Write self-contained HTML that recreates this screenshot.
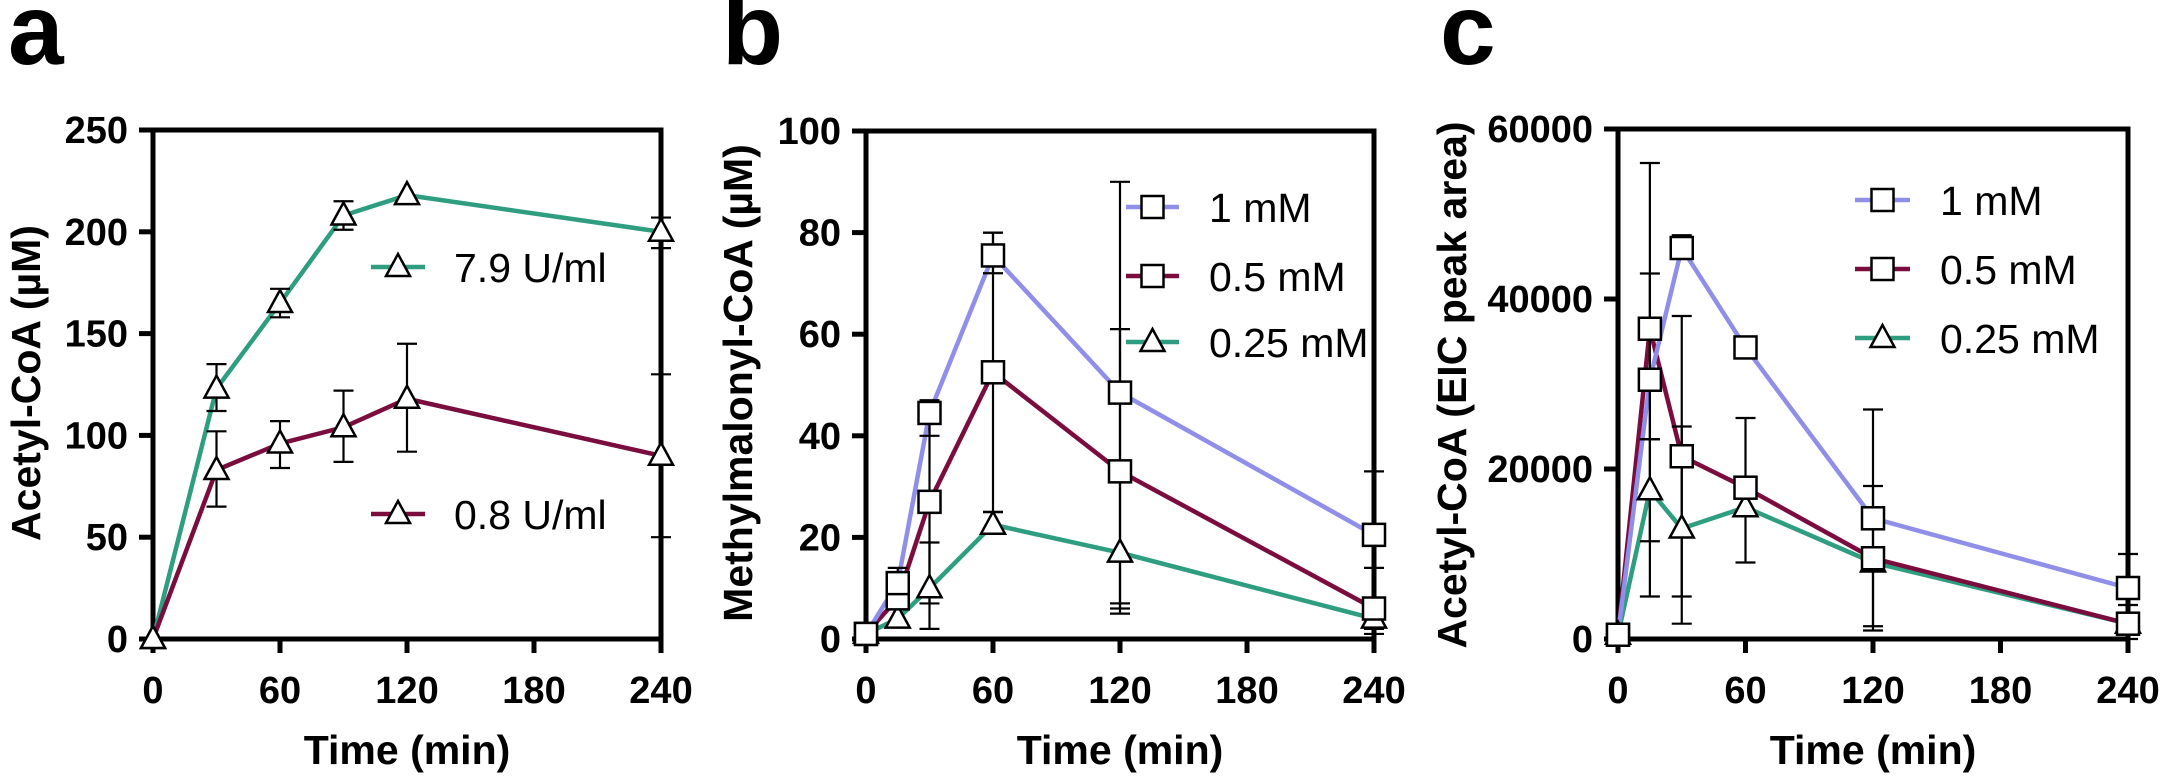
<!DOCTYPE html>
<html><head><meta charset="utf-8"><style>
html,body{margin:0;padding:0;background:#fff;}
svg{display:block;font-family:"Liberation Sans",Arial,sans-serif;}
</style></head><body>
<svg id="s" width="2162" height="780" viewBox="0 0 2162 780" xmlns="http://www.w3.org/2000/svg"></svg>
<script>
const S=document.getElementById('s');const NS='http://www.w3.org/2000/svg';
function el(t,a,txt){const e=document.createElementNS(NS,t);for(const k in a)e.setAttribute(k,a[k]);if(txt!==undefined)e.textContent=txt;S.appendChild(e);return e;}
const G='#2f9e80',R='#7a0d3e',B='#8f8fea';
function tri(x,y){el('polygon',{points:`${x},${y-13} ${x-12},${y+9} ${x+12},${y+9}`,fill:'#fff',stroke:'#000','stroke-width':2.5});}
function sq(x,y){el('rect',{x:x-11,y:y-11,width:22,height:22,fill:'#fff',stroke:'#000','stroke-width':2.5});}
function panel(o){
 const X=t=>o.x0+t*(o.x1-o.x0)/240, Y=v=>o.yb-v*(o.yb-o.yt)/o.ymax;
 el('text',{x:o.lx,y:64,'font-size':100,'font-weight':'bold'},o.letter);
 el('path',{d:`M${o.x0},${o.yt}V${o.yb}H${o.x1}V${o.yt}Z`,fill:'none',stroke:'#000','stroke-width':5});
 for(const t of [0,60,120,180,240]){el('line',{x1:X(t),x2:X(t),y1:o.yb,y2:o.yb+14,stroke:'#000','stroke-width':5});
  el('text',{x:X(t),y:703,'font-size':38,'font-weight':'bold','text-anchor':'middle'},t);}
 for(const v of o.yt_ticks){el('line',{x1:o.x0-14,x2:o.x0,y1:Y(v),y2:Y(v),stroke:'#000','stroke-width':5});
  el('text',{x:o.x0-25,y:Y(v)+13,'font-size':38,'font-weight':'bold','text-anchor':'end'},v);}
 el('text',{x:(o.x0+o.x1)/2,y:764,'font-size':41,'font-weight':'bold','text-anchor':'middle'},'Time (min)');
 el('text',{x:0,y:0,'font-size':o.yfs||41,'font-weight':'bold','text-anchor':'middle',transform:`translate(${o.ylx},${o.yly}) rotate(-90)`},o.ylab);
 for(const s of o.series){
  el('polyline',{points:s.d.map(p=>X(p[0])+','+Y(p[1])).join(' '),fill:'none',stroke:s.c,'stroke-width':4.5,'stroke-linejoin':'round'});
 }
 for(const s of o.series){for(const e of (s.e||[])){const x=X(e[0]);
  el('line',{x1:x,x2:x,y1:Y(e[1]),y2:Y(e[2]),stroke:'#000','stroke-width':2.2});
  for(const v of [e[1],e[2]])el('line',{x1:x-10,x2:x+10,y1:Y(v),y2:Y(v),stroke:'#000','stroke-width':2.2});}}
 for(const s of o.series){for(const p of s.d){(s.m=='t'?tri:sq)(X(p[0]),Y(p[1]));}}
 for(const l of o.leg){el('line',{x1:l.x1,x2:l.x2,y1:l.y,y2:l.y,stroke:l.c,'stroke-width':4.5});(l.m=='t'?tri:sq)((l.x1+l.x2)/2,l.y);
  el('text',{x:l.tx,y:l.y+15,'font-size':41},l.t);}
}
panel({letter:'a',lx:8,x0:153,x1:661,yt:130,yb:639,ymax:250,yt_ticks:[0,50,100,150,200,250],ylab:'Acetyl-CoA (µM)',ylx:40,yly:383,
 series:[{c:G,m:'t',d:[[0,0],[30,123],[60,165],[90,208],[120,218],[240,200]],e:[[30,112,135],[60,158,172],[90,201,215],[240,192,207]]},
 {c:R,m:'t',d:[[0,0],[30,83],[60,96],[90,104],[120,118],[240,90]],e:[[30,65,102],[60,84,107],[90,87,122],[120,92,145],[240,50,130]]}],
 leg:[{x1:371,x2:425,y:267,c:G,m:'t',tx:454,t:'7.9 U/ml'},{x1:371,x2:425,y:514,c:R,m:'t',tx:454,t:'0.8 U/ml'}]});
panel({letter:'b',lx:722,x0:866,x1:1374,yt:131,yb:639,ymax:100,yt_ticks:[0,20,40,60,80,100],ylab:'Methylmalonyl-CoA (µM)',ylx:752,yly:383,
 series:[{c:G,m:'t',d:[[0,1],[15,4],[30,10],[60,22.5],[120,17],[240,4]],e:[[15,3,6],[30,2,19],[60,25,25],[120,5,7],[240,1,3]]},
 {c:R,m:'s',d:[[0,1],[15,8],[30,27],[60,52.5],[120,33],[240,6]],e:[[15,3,14],[30,7,46],[60,25,80],[120,7,61],[240,2,14]]},
 {c:B,m:'s',d:[[0,1],[15,11],[30,44.5],[60,75.5],[120,48.5],[240,20.5]],e:[[30,40,47],[60,72,80],[120,6,90],[240,5,33]]}],
 leg:[{x1:1126,x2:1179,y:207,c:B,m:'s',tx:1209,t:'1 mM'},{x1:1126,x2:1179,y:276,c:R,m:'s',tx:1209,t:'0.5 mM'},{x1:1126,x2:1179,y:342,c:G,m:'t',tx:1209,t:'0.25 mM'}]});
panel({letter:'c',lx:1440,x0:1618,x1:2128,yt:129,yb:639,ymax:60000,yt_ticks:[0,20000,40000,60000],ylab:'Acetyl-CoA (EIC peak area)',ylx:1466,yly:385,
 series:[{c:G,m:'t',d:[[0,500],[15,17500],[30,13000],[60,15500],[120,9000],[240,1800]],e:[[15,11500,23500],[30,5000,25000],[60,9000,26000],[120,1500,18000]]},
 {c:R,m:'s',d:[[0,500],[15,36500],[30,21500],[60,17800],[120,9500],[240,1800]],e:[[15,5000,56000],[30,1800,38000],[120,1000,27000],[240,1000,4000]]},
 {c:B,m:'s',d:[[0,500],[15,30500],[30,46000],[60,34300],[120,14200],[240,6000]],e:[[15,23500,43000],[30,45500,47500],[240,0,10000]]}],
 leg:[{x1:1855,x2:1910,y:200,c:B,m:'s',tx:1940,t:'1 mM'},{x1:1855,x2:1910,y:269,c:R,m:'s',tx:1940,t:'0.5 mM'},{x1:1855,x2:1910,y:338,c:G,m:'t',tx:1940,t:'0.25 mM'}]});
</script>
</body></html>
